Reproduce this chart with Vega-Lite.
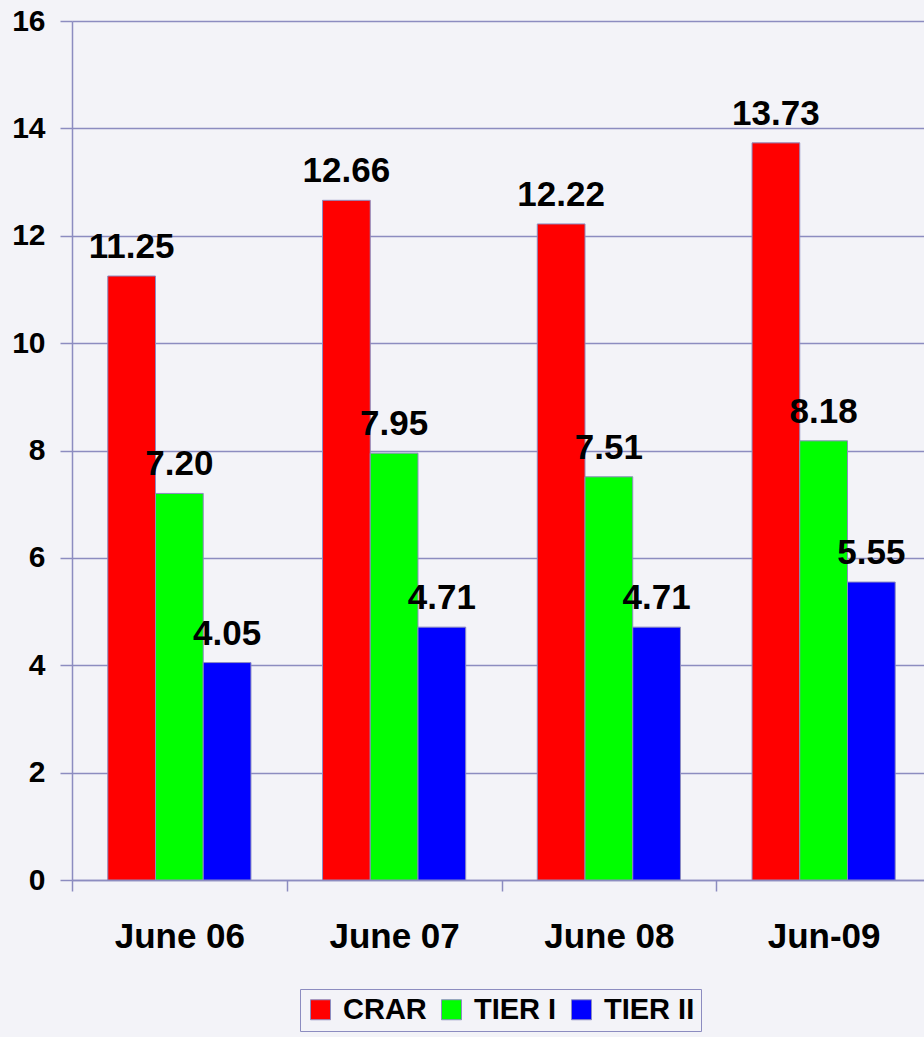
{
  "$schema": "https://vega.github.io/schema/vega-lite/v6.json",
  "width": 859,
  "height": 859,
  "autosize": "none",
  "padding": {"left": 72, "top": 21, "right": 0, "bottom": 157},
  "background": "#f3f3f8",
  "config": {
    "view": {"stroke": null},
    "font": "Liberation Sans"
  },
  "data": {
    "values": [
      {"period": "June 06", "series": "CRAR", "value": 11.25},
      {"period": "June 06", "series": "TIER I", "value": 7.20},
      {"period": "June 06", "series": "TIER II", "value": 4.05},
      {"period": "June 07", "series": "CRAR", "value": 12.66},
      {"period": "June 07", "series": "TIER I", "value": 7.95},
      {"period": "June 07", "series": "TIER II", "value": 4.71},
      {"period": "June 08", "series": "CRAR", "value": 12.22},
      {"period": "June 08", "series": "TIER I", "value": 7.51},
      {"period": "June 08", "series": "TIER II", "value": 4.71},
      {"period": "Jun-09", "series": "CRAR", "value": 13.73},
      {"period": "Jun-09", "series": "TIER I", "value": 8.18},
      {"period": "Jun-09", "series": "TIER II", "value": 5.55}
    ]
  },
  "encoding": {
    "x": {
      "field": "period",
      "type": "nominal",
      "sort": ["June 06", "June 07", "June 08", "Jun-09"],
      "scale": {"paddingInner": 0, "paddingOuter": 0},
      "axis": {
        "title": null,
        "grid": false,
        "labelAngle": 0,
        "labelFont": "Liberation Sans",
        "labelFontSize": 35,
        "labelFontWeight": "bold",
        "labelColor": "#000000",
        "labelPadding": 28,
        "tickBand": "extent",
        "tickSize": 11,
        "tickColor": "#8c8cc0",
        "tickWidth": 1.5,
        "domainColor": "#8c8cc0",
        "domainWidth": 1.5
      }
    },
    "xOffset": {
      "field": "series",
      "type": "nominal",
      "sort": ["CRAR", "TIER I", "TIER II"],
      "scale": {"paddingInner": 0, "paddingOuter": 0.75}
    },
    "y": {
      "field": "value",
      "type": "quantitative",
      "scale": {"domain": [0, 16], "nice": false},
      "axis": {
        "title": null,
        "values": [0, 2, 4, 6, 8, 10, 12, 14, 16],
        "grid": true,
        "gridColor": "#8c8cc0",
        "gridWidth": 1.5,
        "labelFont": "Liberation Sans",
        "labelFontSize": 30,
        "labelFontWeight": "bold",
        "labelColor": "#000000",
        "labelPadding": 15,
        "tickSize": 12,
        "tickColor": "#8c8cc0",
        "tickWidth": 1.5,
        "domainColor": "#8c8cc0",
        "domainWidth": 1.5
      }
    }
  },
  "layer": [
    {
      "mark": {"type": "bar", "stroke": "#8c8cc0", "strokeWidth": 1},
      "encoding": {
        "color": {
          "field": "series",
          "type": "nominal",
          "sort": ["CRAR", "TIER I", "TIER II"],
          "scale": {"domain": ["CRAR", "TIER I", "TIER II"], "range": ["#ff0000", "#00ff00", "#0000ff"]},
          "legend": {
            "title": null,
            "orient": "none",
            "direction": "horizontal",
            "legendX": 228,
            "legendY": 968,
            "padding": 6,
            "strokeColor": "#8c8cc0",
            "fillColor": "#f3f3f8",
            "symbolType": "square",
            "symbolSize": 400,
            "symbolStrokeColor": "#8c8cc0",
            "symbolStrokeWidth": 1,
            "symbolOpacity": 1,
            "labelFont": "Liberation Sans",
            "labelFontSize": 29,
            "labelFontWeight": "bold",
            "labelColor": "#000000",
            "labelOffset": 8,
            "columnPadding": 10
          }
        }
      }
    },
    {
      "mark": {
        "type": "text",
        "baseline": "alphabetic",
        "dy": -18,
        "font": "Liberation Sans",
        "fontSize": 35,
        "fontWeight": "bold",
        "color": "#000000"
      },
      "encoding": {
        "text": {"field": "value", "type": "quantitative", "format": ".2f"}
      }
    }
  ]
}
